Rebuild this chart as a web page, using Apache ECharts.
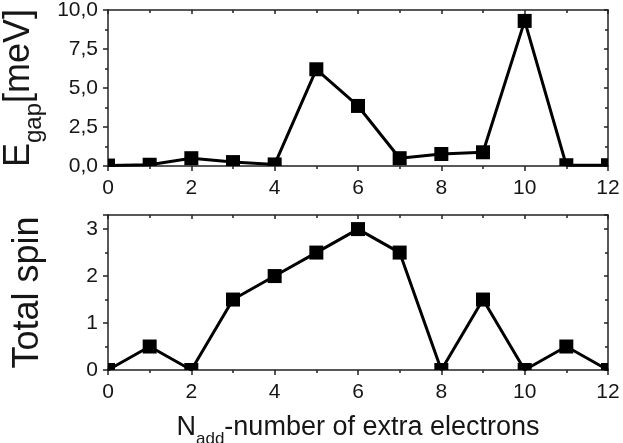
<!DOCTYPE html>
<html>
<head>
<meta charset="utf-8">
<script src="https://cdn.jsdelivr.net/npm/echarts@6/dist/echarts.min.js"></script>
<style>
  html, body { margin: 0; padding: 0; background: #fff; }
  #main { width: 623px; height: 443px; }
</style>
</head>
<body>
<div id="main"></div>
<script>
// данные
const nAdd = [0, 1, 2, 3, 4, 5, 6, 7, 8, 9, 10, 11, 12];
const gapValues = [0.03, 0.08, 0.5, 0.25, 0.1, 6.2, 3.85, 0.5, 0.77, 0.88, 9.3, 0.05, 0.05];
const spinValues = [0, 0.5, 0, 1.5, 2, 2.5, 3, 2.5, 0, 1.5, 0, 0.5, 0];

const gapTicks = [0, 2.5, 5, 7.5, 10];
const spinTicks = [0, 1, 2, 3];

const font = "Liberation Sans, Arial, sans-serif";
const textColor = "#161616";
const lineColor = "#222";

let myChart = echarts.init(document.getElementById("main"));

let toPairs = (values) => nAdd.map((n, i) => [n, values[i]]);

// квадратные маркеры, обрезанные по области графика
let squareItem = (params, api) => {
  let p = api.coord([api.value(0), api.value(1)]);
  let s = 14;
  let cs = params.coordSys;
  let rect = echarts.graphic.clipRectByRect(
    { x: p[0] - s / 2, y: p[1] - s / 2, width: s, height: s },
    { x: cs.x, y: cs.y, width: cs.width, height: cs.height }
  );
  if (!rect) return null;
  return { type: "rect", shape: rect, style: { fill: "#000" } };
};

let mainX = (gridIndex, showName) => ({
  type: "value",
  gridIndex: gridIndex,
  min: 0,
  max: 12,
  interval: 2,
  position: "bottom",
  splitLine: { show: false },
  axisLine: { show: true, onZero: false, lineStyle: { color: lineColor, width: 1.5 } },
  axisTick: { show: true, inside: false, length: 5, lineStyle: { color: lineColor, width: 1.5 } },
  minorTick: { show: true, splitNumber: 2, length: 3, lineStyle: { color: lineColor, width: 1.5 } },
  axisLabel: { color: textColor, fontSize: 21, fontFamily: font, margin: 12 },
  name: showName ? "{m|N}{s|add}{m|-number of extra electrons}" : "",
  nameLocation: "middle",
  nameGap: 44,
  nameTextStyle: {
    color: textColor,
    fontFamily: font,
    rich: {
      m: { fontSize: 27, fontFamily: font, color: textColor, verticalAlign: "bottom", padding: [0, 0, 7, 0] },
      s: { fontSize: 17, fontFamily: font, color: textColor, verticalAlign: "bottom" },
    },
  },
});

let mirrorX = (gridIndex) => ({
  type: "value",
  gridIndex: gridIndex,
  min: 0,
  max: 12,
  interval: 2,
  position: "top",
  splitLine: { show: false },
  axisLine: { show: true, onZero: false, lineStyle: { color: lineColor, width: 1.5 } },
  axisTick: { show: true, inside: true, length: 4, lineStyle: { color: lineColor, width: 1.5 } },
  minorTick: { show: true, splitNumber: 2, length: 3, lineStyle: { color: lineColor, width: 1.5 } },
  axisLabel: { show: false },
});

let mainY = (gridIndex, max, interval, ticks, decimals, name, rich) => ({
  type: "value",
  gridIndex: gridIndex,
  min: 0,
  max: max,
  interval: interval,
  position: "left",
  splitLine: { show: false },
  axisLine: { show: true, onZero: false, lineStyle: { color: lineColor, width: 1.5 } },
  axisTick: { show: true, inside: false, length: 5, lineStyle: { color: lineColor, width: 1.5 } },
  minorTick: { show: true, splitNumber: 2, length: 3, lineStyle: { color: lineColor, width: 1.5 } },
  axisLabel: {
    color: textColor,
    fontSize: 21,
    fontFamily: font,
    margin: 10,
    formatter: (v) =>
      ticks.some((t) => Math.abs(t - v) < 1e-6)
        ? v.toFixed(decimals).replace(".", ",")
        : "",
  },
  name: name,
  nameLocation: "middle",
  nameRotate: 90,
  nameGap: 62,
  nameTextStyle: {
    color: textColor,
    fontFamily: font,
    fontSize: 36,
    rich: rich,
  },
});

let mirrorY = (gridIndex, max, interval) => ({
  type: "value",
  gridIndex: gridIndex,
  min: 0,
  max: max,
  interval: interval,
  position: "right",
  splitLine: { show: false },
  axisLine: { show: true, onZero: false, lineStyle: { color: lineColor, width: 1.5 } },
  axisTick: { show: true, inside: true, length: 4, lineStyle: { color: lineColor, width: 1.5 } },
  minorTick: { show: true, splitNumber: 2, length: 3, lineStyle: { color: lineColor, width: 1.5 } },
  axisLabel: { show: false },
});

let gapRich = {
  m: { fontSize: 36, fontFamily: font, color: textColor, verticalAlign: "bottom", padding: [0, 0, 9, 0] },
  s: { fontSize: 24, fontFamily: font, color: textColor, verticalAlign: "bottom" },
};

let lineSeries = (idx, values) => ({
  type: "line",
  xAxisIndex: idx * 2,
  yAxisIndex: idx * 2,
  data: toPairs(values),
  symbol: "none",
  clip: true,
  lineStyle: { color: "#000", width: 3 },
  z: 2,
});

let squareSeries = (idx, values) => ({
  type: "custom",
  xAxisIndex: idx * 2,
  yAxisIndex: idx * 2,
  data: toPairs(values),
  renderItem: squareItem,
  z: 3,
});

let option = {
  animation: false,
  backgroundColor: "#fff",
  textStyle: { fontFamily: font },
  grid: [
    { left: 108, right: 15, top: 10, height: 156, outerBoundsMode: "none", containLabel: false },
    { left: 108, right: 15, top: 215, height: 155, outerBoundsMode: "none", containLabel: false },
  ],
  xAxis: [mainX(0, false), mirrorX(0), mainX(1, true), mirrorX(1)],
  yAxis: [
    mainY(0, 10, 2.5, gapTicks, 1, "{m|E}{s|gap}{m|[meV]}", gapRich),
    mirrorY(0, 10, 2.5),
    mainY(1, 3.3, 1, spinTicks, 0, "Total spin", null),
    mirrorY(1, 3.3, 1),
  ],
  series: [
    lineSeries(0, gapValues),
    squareSeries(0, gapValues),
    lineSeries(1, spinValues),
    squareSeries(1, spinValues),
  ],
};

myChart.setOption(option);
</script>
</body>
</html>
